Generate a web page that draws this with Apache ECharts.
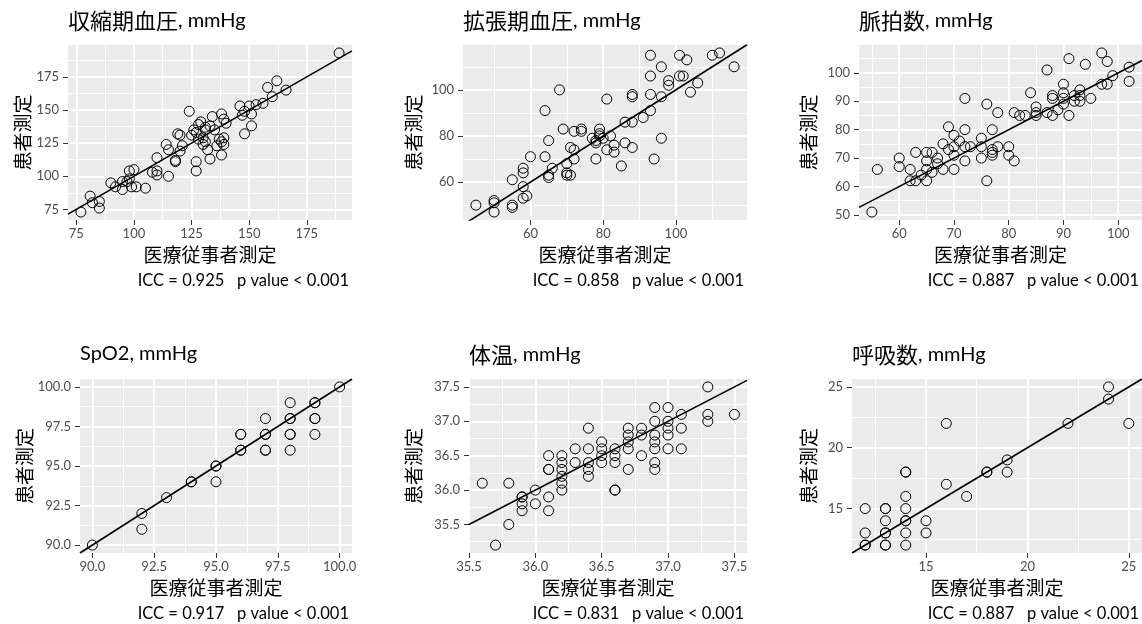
<!DOCTYPE html>
<html lang="ja">
<head>
  <meta charset="UTF-8" />
  <title>ICC scatter</title>
  <style>
    * { margin: 0; padding: 0; }
    html, body { width: 100%; height: 100%; background: #fff; }
    #chart { width: 1142px; height: 624px; }
  </style>
</head>
<body>
  <div id="chart"></div>
  <script src="https://cdn.jsdelivr.net/npm/echarts@6/dist/echarts.min.js"></script>
  <script>
    // 収縮期血圧
    var sbpStaff = [189,162,158,166,160,156,153,150,146,148,151,147,151,148,124,134,138,139,140,129,131,131,126,125,128,130,127,135,131,132,133,136,137,139,139,138,119,120,114,115,121,120,110,118,118,127,127,115,108,110,110,105,100,98,98,99,101,95,95,92,90,81,82,85,85,77,97,128,133,130,138];
    var sbpPatient = [193,172,167,165,160,155,154,153,153,149,147,146,138,132,149,145,147,143,140,141,137,135,135,131,128,129,133,135,126,120,113,123,128,129,124,116,132,131,124,120,123,119,114,112,111,111,104,100,103,104,101,91,105,104,98,92,92,96,90,92,95,85,80,81,76,73,96,139,138,124,126];
    // 拡張期血圧
    var dbpStaff = [45,50,50,50,55,55,55,58,58,58,58,59,60,64,64,65,66,65,65,68,69,71,72,72,70,70,70,71,72,74,74,77,78,78,79,79,80,81,81,82,83,83,85,86,86,88,88,88,88,91,93,93,93,93,94,96,96,96,98,98,101,102,101,103,104,106,110,112,116,78,79];
    var dbpPatient = [50,52,51,47,50,49,61,66,64,58,53,54,71,71,91,78,66,62,63,100,83,75,74,70,68,64,63,63,82,82,83,79,77,70,83,81,79,96,74,80,73,76,67,77,86,75,86,98,97,88,91,98,106,115,70,79,97,110,102,104,106,106,115,113,99,103,115,116,110,78,80];
    // 脈拍数
    var hrStaff = [55,56,60,60,62,62,63,63,64,65,65,65,65,66,66,67,67,68,68,69,69,70,70,70,70,71,72,72,72,72,73,75,75,75,76,76,77,77,77,77,78,78,80,80,81,81,82,83,84,85,85,85,87,87,88,88,88,89,90,90,90,90,91,91,92,92,93,93,93,94,95,97,97,98,98,99,102,102];
    var hrPatient = [51,66,70,67,66,62,72,62,64,72,69,66,62,72,65,70,68,66,75,81,73,74,78,71,66,76,80,91,74,69,74,77,74,70,89,62,80,73,71,72,86,74,74,71,69,86,85,85,93,88,86,85,101,86,92,91,85,87,96,93,91,89,105,85,92,90,94,92,90,103,91,107,96,104,96,99,102,97];
    // SpO2
    var spo2Staff = [90,92,92,93,94,94,95,95,95,96,96,96,96,97,97,97,97,97,98,98,98,98,98,98,99,99,99,99,99,100];
    var spo2Patient = [90,92,91,93,94,94,95,95,94,96,96,97,97,96,96,97,97,98,96,97,97,98,98,99,97,98,98,99,99,100];
    // 体温
    var btStaff = [35.6,35.7,35.8,35.8,35.9,35.9,35.9,35.9,36.0,36.0,36.1,36.1,36.1,36.1,36.1,36.2,36.2,36.2,36.2,36.2,36.2,36.3,36.3,36.4,36.4,36.4,36.4,36.4,36.5,36.5,36.5,36.5,36.6,36.6,36.6,36.6,36.6,36.7,36.7,36.7,36.7,36.7,36.8,36.8,36.8,36.9,36.9,36.9,36.9,36.9,36.9,36.9,37.0,37.0,37.0,37.0,37.0,37.1,37.1,37.1,37.3,37.3,37.3,37.5];
    var btPatient = [36.1,35.2,36.1,35.5,35.9,35.8,35.7,35.9,36.0,35.8,36.5,36.3,36.3,35.9,35.7,36.5,36.4,36.3,36.2,36.1,36.0,36.6,36.4,36.9,36.6,36.4,36.3,36.2,36.7,36.6,36.5,36.4,36.6,36.5,36.4,36.0,36.0,36.9,36.8,36.7,36.6,36.3,36.9,36.8,36.5,37.2,37.0,36.8,36.7,36.6,36.4,36.3,37.2,37.0,36.9,36.8,36.6,37.1,36.9,36.6,37.5,37.1,37.0,37.1];
    // 呼吸数
    var rrStaff = [12,12,12,12,13,13,13,13,13,13,13,14,14,14,14,14,14,14,14,15,15,16,16,17,18,18,19,19,22,24,24,25];
    var rrPatient = [15,13,12,12,15,15,14,13,13,12,12,15,14,14,13,12,16,18,18,14,13,17,22,16,18,18,19,18,22,25,24,22];

    // 目盛り
    var sbpTicks = [75, 100, 125, 150, 175];
    var dbpTicks = [60, 80, 100];
    var hrXTicks = [60, 70, 80, 90, 100];
    var hrYTicks = [50, 60, 70, 80, 90, 100];
    var spo2Ticks = [90, 92.5, 95, 97.5, 100];
    var btTicks = [35.5, 36.0, 36.5, 37.0, 37.5];
    var rrTicks = [15, 20, 25];

    var titleNames = ['収縮期血圧', '拡張期血圧', '脈拍数', 'SpO2', '体温', '呼吸数'];
    var iccValues = ['0.925', '0.858', '0.887', '0.917', '0.831', '0.887'];

    var CJK = '"Noto Sans CJK JP"';
    var LAT = 'Lato';

    // パネル配置 (px)
    var layout = [
      { left: 68,  top: 45,  width: 284, height: 175, yGap: 34, dec: 0 },
      { left: 463, top: 45,  width: 284, height: 175, yGap: 40, dec: 0 },
      { left: 859, top: 45,  width: 283, height: 175, yGap: 41, dec: 0 },
      { left: 80,  top: 379, width: 272, height: 174, yGap: 46, dec: 1 },
      { left: 469, top: 379, width: 278, height: 174, yGap: 46, dec: 1 },
      { left: 852, top: 379, width: 290, height: 174, yGap: 34, dec: 0 }
    ];
    var xs = [sbpStaff, dbpStaff, hrStaff, spo2Staff, btStaff, rrStaff];
    var ys = [sbpPatient, dbpPatient, hrPatient, spo2Patient, btPatient, rrPatient];
    var xTicks = [sbpTicks, dbpTicks, hrXTicks, spo2Ticks, btTicks, rrTicks];
    var yTicks = [sbpTicks, dbpTicks, hrYTicks, spo2Ticks, btTicks, rrTicks];

    function expand(arr, ticks) { // ggplot風 5% 余白
      var lo = Math.min.apply(null, arr), hi = Math.max.apply(null, arr), pad = (hi - lo) * 0.05;
      var r = [lo - pad, hi + pad], tol = (r[1] - r[0]) * 0.01;
      ticks.forEach(function (t) { // 端ぎりぎりの目盛りは残す
        if (t < r[0] && r[0] - t < tol) r[0] = t;
        if (t > r[1] && t - r[1] < tol) r[1] = t;
      });
      return r;
    }
    function minorValues(ticks, r) {
      var step = ticks[1] - ticks[0], v = ticks[0] - step / 2, out = [];
      while (v - step >= r[0]) v -= step;
      for (; v <= r[1]; v += step) if (v >= r[0]) out.push(+v.toFixed(4));
      return out;
    }

    var grids = [], xAxes = [], yAxes = [], series = [], titles = [];

    layout.forEach(function (p, i) {
      var xr = expand(xs[i], xTicks[i]), yr = expand(ys[i], yTicks[i]);
      var fmt = function (v) { return Number(v).toFixed(p.dec); };
      grids.push({
        left: p.left, top: p.top, width: p.width, height: p.height,
        show: true, backgroundColor: '#EBEBEB', borderWidth: 0,
        containLabel: false, outerBoundsMode: 'none'
      });

      function axes(dim, r, ticks, name, gap) {
        var major = {
          type: 'value', gridIndex: i, min: r[0], max: r[1],
          position: dim === 'x' ? 'bottom' : 'left',
          axisLine: { show: false },
          axisTick: { show: true, length: 5, lineStyle: { color: '#333', width: 1 }, customValues: ticks },
          axisLabel: { customValues: ticks, formatter: fmt, color: '#4D4D4D', fontSize: 13, fontFamily: LAT, margin: dim === 'x' ? 7 : 9 },
          splitLine: { show: true, lineStyle: { color: '#fff', width: 2 } },
          name: name, nameLocation: 'middle', nameGap: gap,
          nameTextStyle: { fontFamily: CJK, fontSize: 19, color: '#000' },
          z: 1
        };
        var minor = {
          type: 'value', gridIndex: i, min: r[0], max: r[1],
          position: dim === 'x' ? 'bottom' : 'left',
          axisLine: { show: false },
          axisTick: { show: false, customValues: minorValues(ticks, r) },
          axisLabel: { show: false },
          splitLine: { show: true, lineStyle: { color: '#fff', width: 1 } },
          z: 0
        };
        return [major, minor];
      }
      var xa = axes('x', xr, xTicks[i], '医療従事者測定', 25);
      var ya = axes('y', yr, yTicks[i], '患者測定', p.yGap);
      xAxes.push(xa[0], xa[1]);
      yAxes.push(ya[0], ya[1]);

      var pts = xs[i].map(function (v, k) { return [v, ys[i][k]]; });
      series.push({
        type: 'scatter', xAxisIndex: 2 * i, yAxisIndex: 2 * i,
        data: pts, symbol: 'circle', symbolSize: 10,
        itemStyle: { color: 'rgba(0,0,0,0)', borderColor: '#000', borderWidth: 1, opacity: 1 },
        silent: true, z: 3
      });
      // y = x の一致線
      series.push({
        type: 'line', xAxisIndex: 2 * i, yAxisIndex: 2 * i,
        data: [[xr[0], xr[0]], [xr[1], xr[1]]],
        showSymbol: false, symbol: 'none', clip: true,
        lineStyle: { color: '#000', width: 1.6 }, silent: true, z: 4
      });

      var nm = titleNames[i];
      var isLatin = /^[\x00-\x7F]+$/.test(nm);
      titles.push({
        text: isLatin ? '{l|' + nm + ', mmHg}' : '{j|' + nm + '}{l|, mmHg}',
        left: p.left, top: p.top - 35, padding: 0,
        textStyle: {
          fontWeight: 'normal',
          rich: {
            j: { fontFamily: CJK, fontSize: 22, fontWeight: 'normal', color: '#000' },
            l: { fontFamily: LAT, fontSize: 20, fontWeight: 'normal', color: '#000' }
          }
        }
      });
      titles.push({
        text: 'ICC = ' + iccValues[i] + '   p value < 0.001',
        right: 1142 - (p.left + p.width) + 3, top: p.top + p.height + 52, padding: 0,
        textStyle: { fontFamily: LAT, fontSize: 16.5, fontWeight: 'normal', color: '#000' }
      });
    });

    var chart = echarts.init(document.getElementById('chart'));
    chart.setOption({
      animation: false,
      backgroundColor: '#fff',
      title: titles,
      grid: grids,
      xAxis: xAxes,
      yAxis: yAxes,
      series: series
    });
  </script>
</body>
</html>
